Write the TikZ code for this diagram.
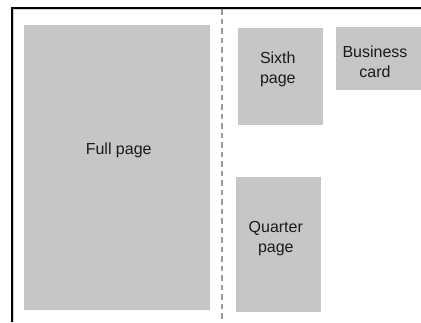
\documentclass[tikz,border=0pt]{standalone}
\usepackage{fontspec}
\setmainfont{Liberation Sans}
\definecolor{boxgray}{HTML}{C6C6C6}
\definecolor{txt}{HTML}{1A1A1A}
\definecolor{dashgray}{HTML}{999999}
\definecolor{shadowgray}{HTML}{D0D0D0}
\begin{document}
\begin{tikzpicture}[x=1pt,y=-1pt,
  adbox/.style={fill=boxgray,draw=none,inner sep=0pt,anchor=north west},
  adlabel/.style={text=txt,align=center,inner sep=0pt,font=\fontsize{16}{20}\selectfont}]
\useasboundingbox (0,0) rectangle (421,322);
% frame
\draw[shadowgray,line width=1pt] (13.5,322) -- (13.5,9.8) -- (421,9.8);
\draw[black,line width=1.7pt] (11.8,322) -- (11.8,8) -- (421,8);
% divider
\coordinate (dtop) at (222,9);
\coordinate (dbot) at (222,322);
\draw[dashgray,line width=1.5pt,dash pattern=on 5.5pt off 4pt] (dtop) -- (dbot);
% boxes
\node[adbox,minimum width=186pt,minimum height=285pt] (full) at (24,25) {};
\node[adbox,minimum width=85pt,minimum height=97pt] (sixth) at (238,28) {};
\node[adbox,minimum width=86pt,minimum height=63pt] (card) at (336,27) {};
\node[adbox,minimum width=85pt,minimum height=135pt] (quarter) at (236,177) {};
% labels
\node[adlabel] (fulll) at (118.7,149.9) {Full page};
\node[adlabel] (sixthl) at (277.8,69.2) {Sixth\\page};
\node[adlabel] (cardl) at (375,61.8) {Business\\card};
\node[adlabel] (quarterl) at (275.8,238.2) {Quarter\\page};
\end{tikzpicture}
\end{document}
